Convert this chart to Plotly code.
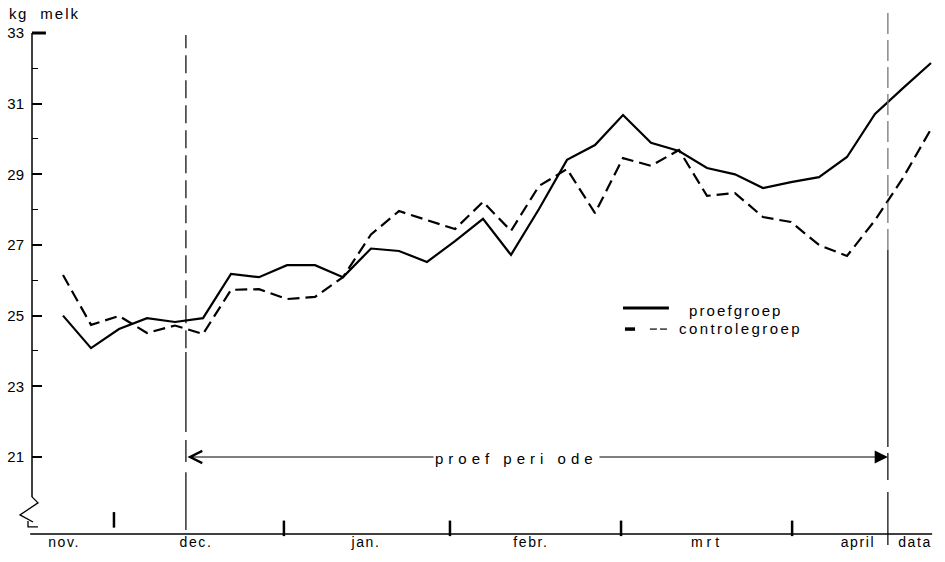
import plotly.graph_objects as go

# --- data: daily milk yield per cow (kg), measured every period step ---
period_index = list(range(32))
proefgroep = [25.0, 24.08, 24.62, 24.93, 24.82, 24.93, 26.18, 26.09, 26.43, 26.43,
              26.09, 26.9, 26.83, 26.52, 27.11, 27.74, 26.72, 28.02, 29.41, 29.83,
              30.68, 29.89, 29.66, 29.18, 29.0, 28.61, 28.78, 28.92, 29.49, 30.71,
              31.44, 32.15]
controlegroep = [26.15, 24.74, 24.99, 24.51, 24.72, 24.48, 25.73, 25.75, 25.47, 25.53,
                 26.09, 27.3, 27.96, 27.7, 27.45, 28.22, 27.4, 28.67, 29.15, 27.9,
                 29.46, 29.24, 29.69, 28.39, 28.47, 27.79, 27.65, 27.0, 26.69, 27.7,
                 28.9, 30.28]

y_ticks = [21, 23, 25, 27, 29, 31, 33]
y_minor_ticks = [24, 26, 28, 30, 32]

month_labels = ["nov.", "dec.", "jan.", "febr.", "mrt", "april", "data"]
month_label_pos = [0.04, 4.75, 10.82, 16.71, 23.0, 28.39, 30.43]
month_boundaries = [1.82, 7.89, 13.82, 19.93, 26.04]

period_start = 4.39   # begin proefperiode
period_end = 29.46    # einde proefperiode
period_level = 21

X_RANGE = [-1.107, 31.5]
Y_RANGE = [18.82, 33.934]
FONT = "Liberation Sans, Arial, sans-serif"


def xpaper(v):
    return (v - X_RANGE[0]) / (X_RANGE[1] - X_RANGE[0])


def ypaper(v):
    return (v - Y_RANGE[0]) / (Y_RANGE[1] - Y_RANGE[0])


def spaced(text, px):
    return f'<span style="letter-spacing:{px}px">{text}</span>'


fig = go.Figure()
fig.add_trace(go.Scatter(x=period_index, y=proefgroep, mode="lines", name="proefgroep",
                         line=dict(color="black", width=2.2), showlegend=False))
fig.add_trace(go.Scatter(x=period_index, y=controlegroep, mode="lines", name="controlegroep",
                         line=dict(color="black", width=2.2, dash="12px,6px"), showlegend=False))

shapes = []
# y axis line with break at the bottom
shapes.append(dict(type="line", xref="paper", yref="y", x0=0, x1=0, y0=19.87, y1=33,
                   line=dict(color="black", width=1.5)))
shapes.append(dict(type="line", xref="x", yref="y", x0=X_RANGE[0], x1=-0.61, y0=33, y1=33,
                   line=dict(color="black", width=3)))
brk = [(X_RANGE[0], 19.87), (-0.893, 19.70), (-1.536, 19.36), (-1.071, 19.16)]
path = "M" + " L".join(f"{xpaper(a):.5f},{ypaper(b):.5f}" for a, b in brk)
brk2 = [(-1.25, 19.19), (-1.25, 19.02), (-0.893, 19.02)]
path += " M" + " L".join(f"{xpaper(a):.5f},{ypaper(b):.5f}" for a, b in brk2)
shapes.append(dict(type="path", xref="paper", yref="paper", path=path,
                   line=dict(color="black", width=1.3)))

# x axis line and month boundaries
shapes.append(dict(type="line", xref="paper", yref="paper", x0=-0.002, x1=xpaper(31.04),
                   y0=0, y1=0, line=dict(color="black", width=1.5)))
for i, mb in enumerate(month_boundaries):
    y0, y1 = (19.0, 19.44) if i == 0 else (18.76, 19.2)
    shapes.append(dict(type="line", xref="x", yref="paper", x0=mb, x1=mb,
                       y0=ypaper(y0), y1=ypaper(y1), line=dict(color="black", width=2.5)))

# start of the trial period
shapes.append(dict(type="line", xref="x", yref="paper", x0=period_start, x1=period_start,
                   y0=ypaper(24.08), y1=ypaper(32.94),
                   line=dict(color="black", width=1.2, dash="18px,7px")))
for a, b in [(21.71, 23.97), (20.86, 21.48), (18.93, 20.57)]:
    shapes.append(dict(type="line", xref="x", yref="paper", x0=period_start, x1=period_start,
                       y0=ypaper(a), y1=ypaper(b), line=dict(color="black", width=1.2)))

# end of the trial period
shapes.append(dict(type="line", xref="x", yref="paper", x0=period_end, x1=period_end,
                   y0=ypaper(26.86), y1=ypaper(33.59),
                   line=dict(color="#777777", width=1.3, dash="21px,6px")))
for a, b in [(21.28, 26.86), (20.35, 21.11), (18.51, 20.01)]:
    shapes.append(dict(type="line", xref="x", yref="paper", x0=period_end, x1=period_end,
                       y0=ypaper(a), y1=ypaper(b), line=dict(color="black", width=1.2)))

# legend keys
shapes.append(dict(type="line", xref="x", yref="y", x0=20.0, x1=21.64, y0=25.22, y1=25.22,
                   line=dict(color="black", width=3)))
shapes.append(dict(type="line", xref="x", yref="y", x0=20.07, x1=20.43, y0=24.62, y1=24.62,
                   line=dict(color="black", width=3.5)))
for a, b in [(20.96, 21.21), (21.32, 21.57)]:
    shapes.append(dict(type="line", xref="x", yref="y", x0=a, x1=b, y0=24.62, y1=24.62,
                       line=dict(color="black", width=1.2)))

annotations = [
    dict(text=spaced("kg", 1.5) + "\u00a0\u00a0\u00a0" + spaced("melk", 2), xref="paper", yref="paper",
         x=xpaper(-2.0), y=ypaper(33.55), xanchor="left", yanchor="middle", showarrow=False,
         font=dict(family=FONT, size=15, color="black")),
    # trial period arrow
    dict(text="", x=period_end, y=period_level, ax=period_start, ay=period_level,
         xref="x", yref="y", axref="x", ayref="y", showarrow=True,
         arrowside="end+start", arrowhead=2, arrowsize=2.2, startarrowhead=5,
         startarrowsize=2.0, arrowwidth=1.2, arrowcolor="black", standoff=0, startstandoff=0),
    dict(text=spaced("proef peri ode", 5), x=16.21, y=period_level - 0.05, xref="x", yref="y",
         showarrow=False, bgcolor="white", borderpad=1,
         font=dict(family=FONT, size=15, color="black")),
    dict(text=spaced("proefgroep", 2.1), x=22.29, y=25.16, xref="x", yref="y",
         xanchor="left", showarrow=False, font=dict(family=FONT, size=15, color="black")),
    dict(text=spaced("controlegroep", 2.4), x=21.93, y=24.65, xref="x", yref="y",
         xanchor="left", showarrow=False, font=dict(family=FONT, size=15, color="black")),
]

month_text = [spaced(m, 4 if m == "mrt" else 1.6) for m in month_labels]

fig.update_layout(
    width=945, height=562,
    margin=dict(l=32, r=0, t=0, b=28, pad=0),
    paper_bgcolor="white", plot_bgcolor="white",
    showlegend=False,
    shapes=shapes, annotations=annotations,
    xaxis=dict(range=X_RANGE, showgrid=False, zeroline=False, showline=False,
               tickmode="array", tickvals=month_label_pos, ticktext=month_text,
               ticks="", ticklabelstandoff=-2,
               tickfont=dict(family=FONT, size=14, color="black")),
    yaxis=dict(range=Y_RANGE, showgrid=False, zeroline=False, showline=False,
               tickmode="array", tickvals=y_ticks, ticks="inside", ticklen=10,
               tickwidth=1.5, tickcolor="black", ticklabelstandoff=7,
               tickfont=dict(family=FONT, size=15, color="black"),
               minor=dict(tickmode="array", tickvals=y_minor_ticks, ticks="inside",
                          ticklen=6, tickwidth=1, tickcolor="black")),
)

fig.write_html("out.html")
